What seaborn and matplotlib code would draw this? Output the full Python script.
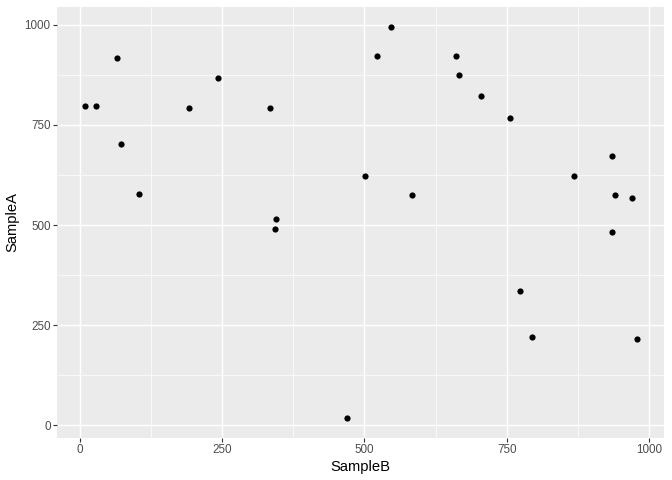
import matplotlib
matplotlib.use("Agg")
import matplotlib.pyplot as plt
import seaborn as sns
import pandas as pd
from matplotlib.ticker import MultipleLocator

# -------------------------------
# Data
# -------------------------------
sample_b = [8, 27, 64, 71, 104, 192, 242, 334, 344, 342,
            546, 522, 661, 667, 705, 756, 936, 501, 868, 584,
            941, 970, 935, 774, 794, 979, 470]
sample_a = [798, 798, 918, 703, 578, 793, 868, 793, 515, 490,
            996, 923, 922, 874, 823, 767, 673, 623, 623, 574,
            574, 567, 482, 335, 221, 216, 17]

df = pd.DataFrame({"SampleB": sample_b, "SampleA": sample_a})

# ggplot-like grey theme
sns.set_style("darkgrid", {
    "axes.facecolor": "#EBEBEB",
    "grid.color": "white",
    "axes.edgecolor": "none",
})
plt.rcParams["font.family"] = ["Liberation Sans", "DejaVu Sans"]

fig = plt.figure(figsize=(6.72, 4.8), dpi=100)
ax = fig.add_axes([0.0851, 0.0879, 0.9036, 0.8975])

sns.scatterplot(data=df, x="SampleB", y="SampleA", ax=ax,
                color="black", s=20, linewidth=0, zorder=3)

# 5% expansion like ggplot
def expand(vals):
    lo, hi = min(vals), max(vals)
    pad = (hi - lo) * 0.05
    return lo - pad, hi + pad

ax.set_xlim(*expand(sample_b))
ax.set_ylim(*expand(sample_a))

for axis in (ax.xaxis, ax.yaxis):
    axis.set_major_locator(MultipleLocator(250))
    axis.set_minor_locator(MultipleLocator(125))

ax.grid(which="major", color="white", linewidth=1.05)
ax.grid(which="minor", color="white", linewidth=0.5)
ax.set_axisbelow(True)

ax.tick_params(which="major", length=2.6, width=0.8, color="#333333",
               labelcolor="#4D4D4D", labelsize=8.4, pad=2.2,
               bottom=True, left=True)
ax.tick_params(which="minor", length=0)

ax.set_xlabel("SampleB", fontsize=10.6, color="black", labelpad=2.5)
ax.set_ylabel("SampleA", fontsize=10.6, color="black", labelpad=3.5)

for s in ax.spines.values():
    s.set_visible(False)

fig.savefig("out.png", dpi=100)
plt.close()
